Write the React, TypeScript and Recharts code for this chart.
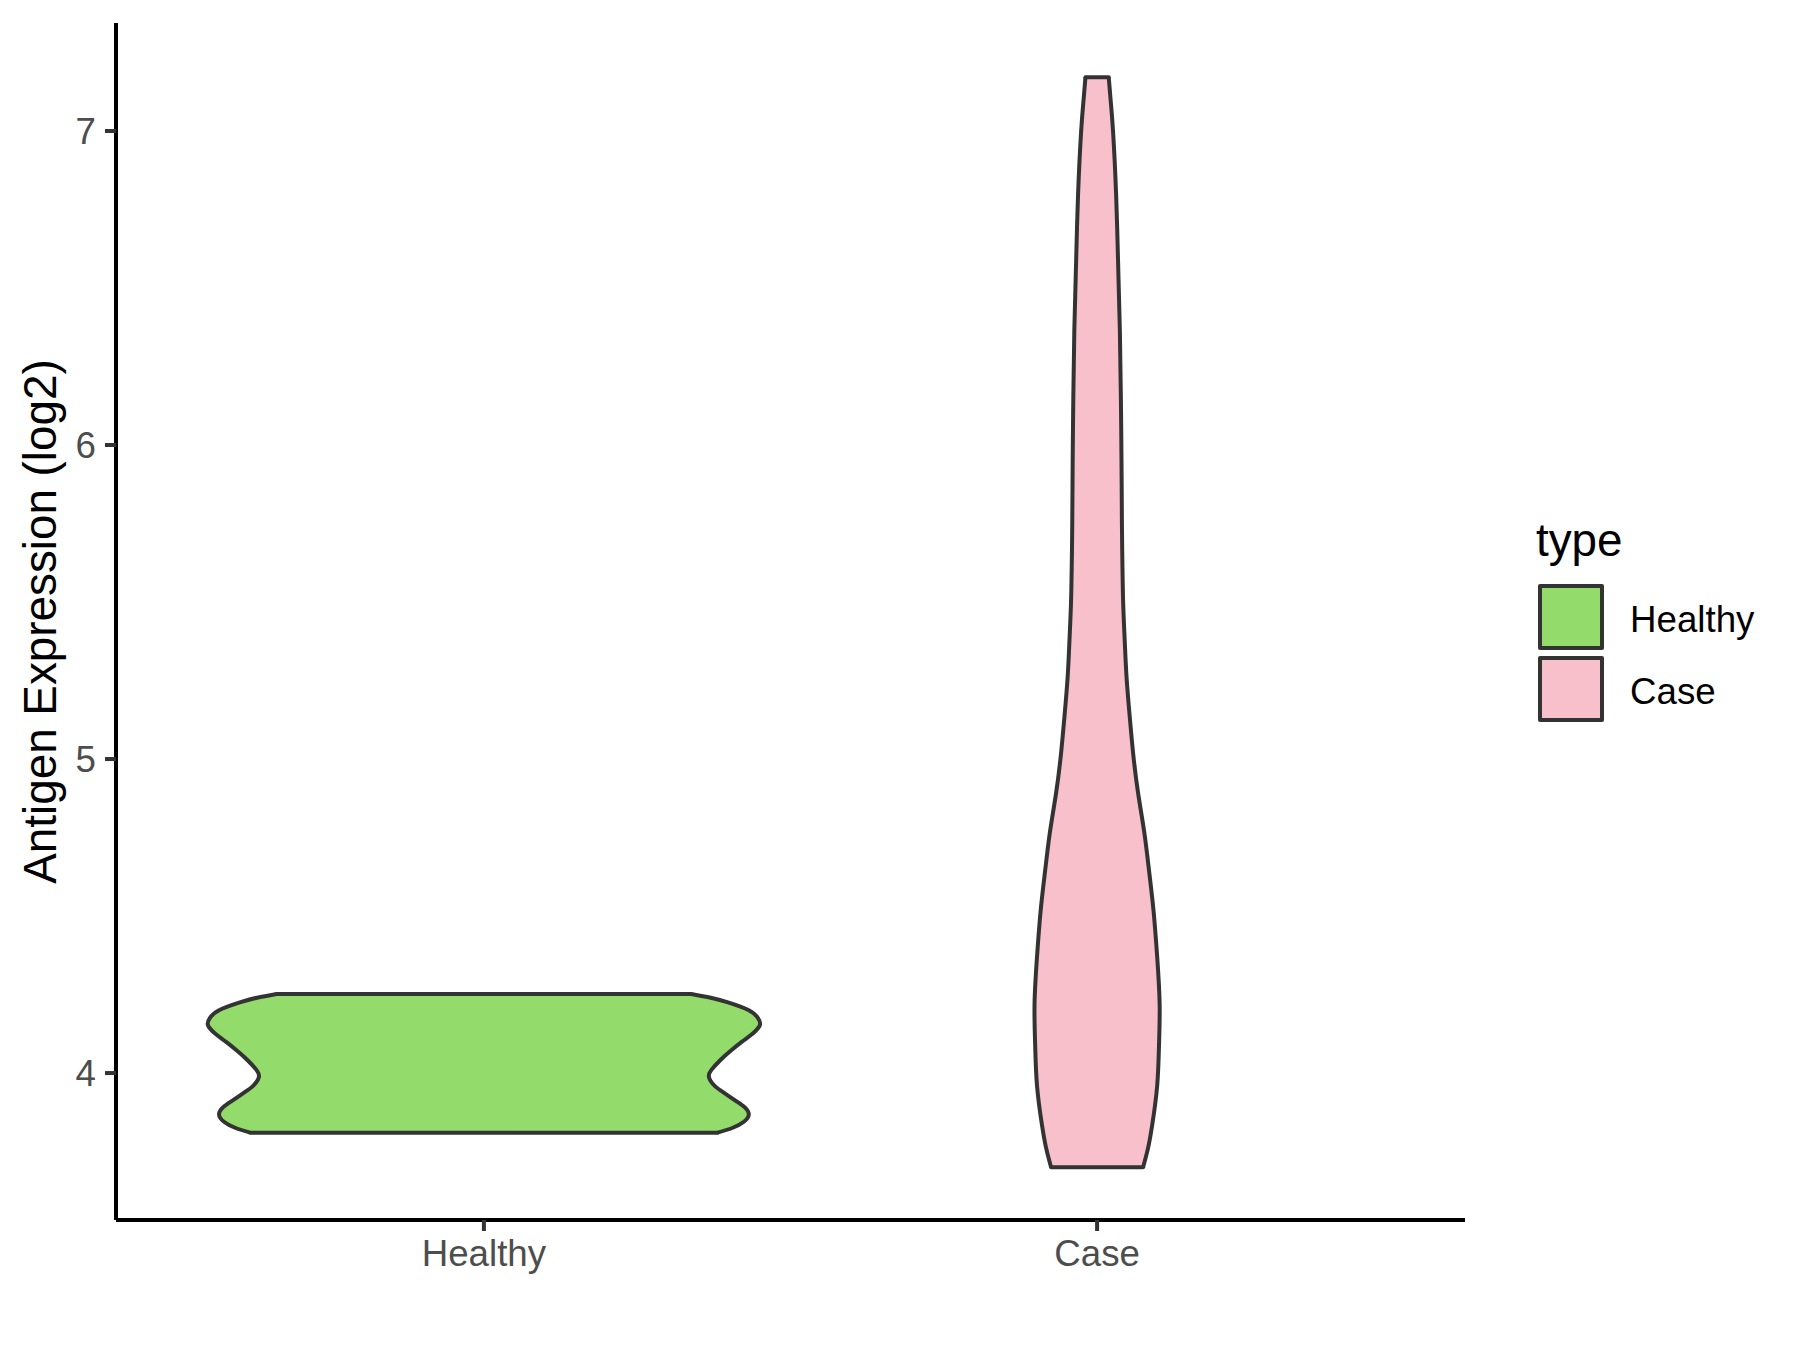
import React from 'react';
import { ComposedChart, Area, Scatter, XAxis, YAxis } from 'recharts';

const categories = ['Healthy', 'Case'];
const yTicks = [4, 5, 6, 7];

// violin outlines: y value and half width (in category units)
const healthyY = [3.81, 3.825, 3.845, 3.868, 3.89, 3.91, 3.935, 3.96, 3.987, 4.01, 4.04, 4.07, 4.1, 4.125, 4.152, 4.175, 4.2, 4.225, 4.24, 4.252];
const healthyHalf = [0.381, 0.405, 0.424, 0.432, 0.426, 0.412, 0.393, 0.376, 0.367, 0.371, 0.385, 0.402, 0.421, 0.438, 0.45, 0.447, 0.432, 0.398, 0.37, 0.338];

const caseY = [3.7, 3.76, 3.836, 3.96, 4.09, 4.221, 4.37, 4.518, 4.64, 4.766, 4.89, 5.014, 5.14, 5.262, 5.38, 5.5, 5.634, 5.75, 5.95, 6.15, 6.376, 6.6, 6.8, 7.0, 7.1, 7.171];
const caseHalf = [0.075, 0.083, 0.09, 0.098, 0.101, 0.102, 0.098, 0.092, 0.085, 0.077, 0.067, 0.059, 0.053, 0.048, 0.045, 0.0425, 0.0412, 0.0405, 0.0398, 0.0388, 0.037, 0.034, 0.031, 0.026, 0.022, 0.019];

const fills = ['#93DB6A', '#F7C0CB'];
const outline = '#333333';

const toArea = (ys: number[], half: number[], pos: number) =>
  ys.map((y, i) => ({ y, range: [pos - half[i], pos + half[i]] }));

const toCap = (ys: number[], half: number[], pos: number, i: number) => [
  { x: pos - half[i], y: ys[i] },
  { x: pos + half[i], y: ys[i] },
];

const healthyArea = toArea(healthyY, healthyHalf, 1);
const caseArea = toArea(caseY, caseHalf, 2);
const caps = [
  toCap(healthyY, healthyHalf, 1, 0),
  toCap(healthyY, healthyHalf, 1, healthyY.length - 1),
  toCap(caseY, caseHalf, 2, 0),
  toCap(caseY, caseHalf, 2, caseY.length - 1),
];

const font = '"Liberation Sans", Arial, sans-serif';
const noDot = () => <g />;
const lineW = 4;

const App: React.FC = () => {
  return (
    <div style={{ position: 'absolute', left: 0, top: 0, width: 1800, height: 1350, background: '#fff', fontFamily: font }}>
      <ComposedChart
        layout="vertical"
        width={1800}
        height={1350}
        margin={{ top: 23, right: 335, bottom: 0, left: 0 }}
      >
        <XAxis
          type="number"
          dataKey="x"
          domain={[0.4, 2.6]}
          ticks={[1, 2]}
          allowDataOverflow
          height={130}
          tickFormatter={(v: number) => categories[v - 1]}
          tick={{ fill: '#4D4D4D', fontSize: 36.7, fontFamily: font }}
          tickSize={11}
          tickMargin={9}
          axisLine={{ stroke: '#000', strokeWidth: lineW }}
          tickLine={{ stroke: outline, strokeWidth: lineW }}
        />
        <YAxis
          type="number"
          dataKey="y"
          reversed
          domain={[3.532, 7.344]}
          ticks={yTicks}
          allowDataOverflow
          width={116}
          tick={{ fill: '#4D4D4D', fontSize: 36.7, fontFamily: font }}
          tickSize={11}
          tickMargin={9}
          axisLine={{ stroke: '#000', strokeWidth: lineW }}
          tickLine={{ stroke: outline, strokeWidth: lineW }}
          label={{
            value: 'Antigen Expression (log2)',
            angle: -90,
            position: 'center',
            dx: -18,
            style: { fill: '#000', fontSize: 45.8, fontFamily: font, textAnchor: 'middle' },
          }}
        />
        <Area
          data={healthyArea}
          dataKey="range"
          type="natural"
          fill={fills[0]}
          fillOpacity={1}
          stroke={outline}
          strokeWidth={lineW}
          isAnimationActive={false}
          dot={false}
          activeDot={false}
        />
        <Area
          data={caseArea}
          dataKey="range"
          type="natural"
          fill={fills[1]}
          fillOpacity={1}
          stroke={outline}
          strokeWidth={lineW}
          isAnimationActive={false}
          dot={false}
          activeDot={false}
        />
        {caps.map((c, i) => (
          <Scatter
            key={i}
            data={c}
            line={{ stroke: outline, strokeWidth: lineW, strokeLinecap: 'round' }}
            shape={noDot}
            isAnimationActive={false}
          />
        ))}
      </ComposedChart>

      {/* legend */}
      <div style={{ position: 'absolute', left: 1536, top: 515, fontSize: 45.8, color: '#000', lineHeight: '52px' }}>type</div>
      {categories.map((c, i) => (
        <div key={c}>
          <div
            style={{
              position: 'absolute',
              left: 1538,
              top: 584 + i * 72,
              width: 58,
              height: 58,
              background: fills[i],
              border: `${lineW}px solid ${outline}`,
              borderRadius: 2,
            }}
          />
          <div
            style={{
              position: 'absolute',
              left: 1630,
              top: 587 + i * 72,
              height: 66,
              lineHeight: '66px',
              fontSize: 36.7,
              color: '#000',
            }}
          >
            {c}
          </div>
        </div>
      ))}
    </div>
  );
};

export default App;
